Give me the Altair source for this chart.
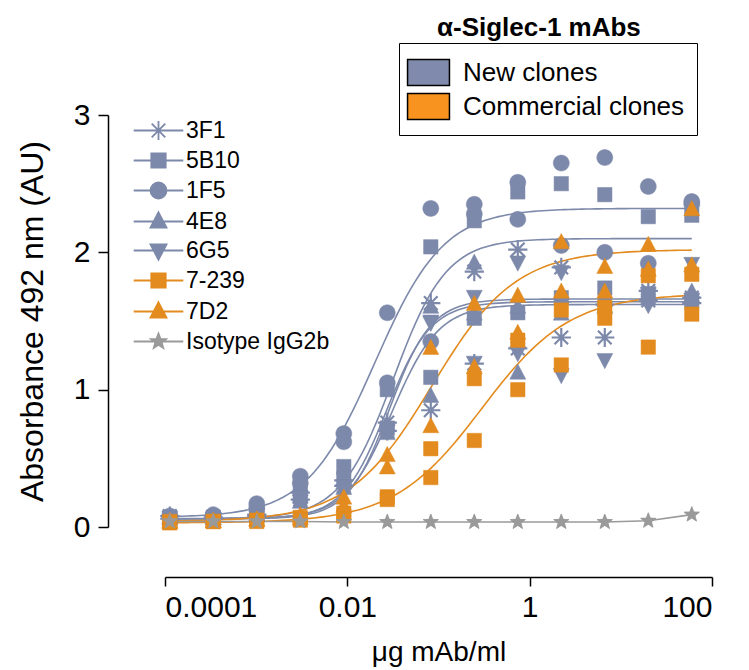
import altair as alt
import pandas as pd

# ---------------- data ----------------
conc = [60, 20, 6.667, 2.222, 0.7407, 0.2469, 0.0823, 0.02743, 0.009145,
        0.003048, 0.001016, 0.0003387, 0.0001129]

series_names = ["3F1", "5B10", "1F5", "4E8", "6G5", "7-239", "7D2", "Isotype IgG2b"]

# two replicates per concentration
rep1 = {
    "3F1":  [1.67, 1.72, 1.62, 1.89, 2.02, 1.86, 1.63, 0.76, 0.34, 0.25, 0.09, 0.07, 0.08],
    "5B10": [2.27, 2.26, 2.42, 2.50, 2.44, 2.23, 2.04, 1.00, 0.44, 0.28, 0.10, 0.07, 0.07],
    "1F5":  [2.37, 2.48, 2.69, 2.65, 2.51, 2.35, 2.32, 1.56, 0.68, 0.37, 0.17, 0.09, 0.08],
    "4E8":  [1.71, 1.68, 1.65, 1.70, 1.60, 1.92, 1.60, 0.74, 0.32, 0.22, 0.09, 0.06, 0.07],
    "6G5":  [1.92, 1.70, 1.60, 1.86, 1.93, 1.68, 1.49, 0.70, 0.30, 0.22, 0.09, 0.06, 0.07],
    "7-239": [1.84, 1.83, 1.60, 1.58, 1.36, 1.08, 0.57, 0.22, 0.10, 0.07, 0.05, 0.04, 0.04],
    "7D2":  [2.31, 2.05, 1.89, 2.07, 1.68, 1.62, 1.30, 0.52, 0.21, 0.08, 0.05, 0.04, 0.04],
    "Isotype IgG2b": [0.09, 0.045, 0.036, 0.036, 0.036, 0.036, 0.036, 0.036, 0.036, 0.04, 0.04, 0.04, 0.04],
}
rep2 = {
    "3F1":  [1.63, 1.65, 1.38, 1.38, 1.30, 1.19, 0.85, 0.70, 0.30, 0.20, 0.08, 0.06, 0.06],
    "5B10": [1.65, 1.70, 1.74, 1.67, 1.56, 1.52, 1.09, 0.72, 0.35, 0.22, 0.08, 0.06, 0.06],
    "1F5":  [2.35, 1.92, 2.00, 2.05, 2.24, 2.28, 1.35, 1.05, 0.62, 0.32, 0.14, 0.08, 0.07],
    "4E8":  [1.68, 1.66, 1.60, 1.55, 1.12, 1.55, 0.95, 0.68, 0.28, 0.18, 0.08, 0.06, 0.06],
    "6G5":  [1.66, 1.62, 1.22, 1.11, 1.27, 1.20, 1.50, 0.72, 0.27, 0.19, 0.07, 0.06, 0.05],
    "7-239": [1.55, 1.31, 1.52, 1.18, 1.00, 0.63, 0.36, 0.20, 0.08, 0.05, 0.04, 0.04, 0.03],
    "7D2":  [1.90, 1.87, 1.71, 1.71, 1.41, 1.16, 0.73, 0.43, 0.15, 0.06, 0.05, 0.04, 0.03],
    "Isotype IgG2b": [0.09, 0.045, 0.036, 0.036, 0.036, 0.036, 0.036, 0.036, 0.036, 0.04, 0.04, 0.04, 0.04],
}

# four-parameter logistic fits (bottom, top, EC50, Hill)
fit_series = ["1F5", "5B10", "3F1", "4E8", "6G5", "7D2", "7-239"]
fit_bottom = [0.07, 0.06, 0.06, 0.06, 0.06, 0.04, 0.03]
fit_top = [2.32, 2.10, 1.64, 1.62, 1.66, 2.02, 1.70]
fit_ec50 = [0.020, 0.032, 0.027, 0.031, 0.029, 0.085, 0.30]
fit_hill = [1.15, 1.5, 1.8, 1.7, 1.9, 0.95, 0.9]

group_names = ["New clones", "Commercial clones"]

# ---------------- styles ----------------
BLUE = "#7D89AA"
ORANGE = "#E38B1E"
GRAY = "#9A9A9A"
series_colors = [BLUE, BLUE, BLUE, BLUE, BLUE, ORANGE, ORANGE, GRAY]
group_colors = ["#7F8AAC", "#F7931E"]

P_AST = "M-1.2,0H1.2M0,-1.2V1.2M-0.85,-0.85L0.85,0.85M-0.85,0.85L0.85,-0.85"
P_SQ = "M-0.9,-0.9H0.9V0.9H-0.9Z"
P_CI = "M-1,0A1,1,0,1,1,1,0A1,1,0,1,1,-1,0Z"
P_TU = "M0,-1.15L1,0.75H-1Z"
P_TD = "M0,1.15L1,-0.75H-1Z"
P_ST = ("M0,-1L0.247,-0.34L0.951,-0.309L0.399,0.13L0.588,0.809L0,0.42"
        "L-0.588,0.809L-0.399,0.13L-0.951,-0.309L-0.247,-0.34Z")
marker_paths = [P_AST, P_SQ, P_CI, P_TU, P_TD, P_SQ, P_TU, P_ST]
LINE = "M-3.1,0H3.1"
legend_paths = [LINE + p for p in marker_paths]
RECT = "M-1.27,-0.79H1.27V0.79H-1.27Z"
FONT = "Liberation Sans"

# ---------------- tables ----------------
rows = []
for s in series_names:
    for c, a, b in zip(conc, rep1[s], rep2[s]):
        rows.append({"series": s, "conc": c, "abs": a, "rep": 1})
        rows.append({"series": s, "conc": c, "abs": b, "rep": 2})
points = pd.DataFrame(rows)
iso = points[(points["series"] == "Isotype IgG2b") & (points["rep"] == 1)]
fits = pd.DataFrame({"series": fit_series, "bottom": fit_bottom, "top": fit_top,
                     "ec50": fit_ec50, "hill": fit_hill})
legend_df = pd.DataFrame({"series": series_names})
group_df = pd.DataFrame({"group": group_names})

XT = "μg mAb/ml"
YT = "Absorbance 492 nm (AU)"

xscale = alt.Scale(type="log", domain=[1e-4, 100])
yscale = alt.Scale(domain=[0, 3])
xaxis = alt.Axis(values=[1e-4, 0.01, 1, 100], format="~g", offset=50, tickSize=9,
                 labelPadding=6, titlePadding=16, title=XT, titleFontSize=28)
yaxis = alt.Axis(values=[0, 1, 2, 3], format="d", offset=57, tickSize=10, labelPadding=8,
                 titlePadding=24, title=YT, titleFontSize=32)

# fitted curves
curves = alt.Chart(fits).transform_calculate(
    t="sequence(0, 121)"
).transform_flatten(["t"]).transform_calculate(
    x="pow(10, -4 + datum.t * (4 + log(60) / LN10) / 120)"
).transform_calculate(
    y="datum.bottom + (datum.top - datum.bottom) / (1 + pow(datum.ec50 / datum.x, datum.hill))"
).mark_line(strokeWidth=1.6, clip=False).encode(
    x=alt.X("x:Q", scale=xscale, axis=xaxis, title=XT),
    y=alt.Y("y:Q", scale=yscale, axis=yaxis, title=YT),
    color=alt.Color("series:N", scale=alt.Scale(domain=series_names, range=series_colors), legend=None),
    detail="series:N",
)

iso_line = alt.Chart(iso).mark_line(strokeWidth=1.6, color=GRAY).encode(
    x=alt.X("conc:Q", scale=xscale, title=XT),
    y=alt.Y("abs:Q", scale=yscale, title=YT),
)

pts = alt.Chart(points).mark_point(filled=True, size=256, opacity=1).encode(
    x=alt.X("conc:Q", scale=xscale, title=XT),
    y=alt.Y("abs:Q", scale=yscale, title=YT),
    color=alt.Color("series:N", scale=alt.Scale(domain=series_names, range=series_colors), legend=None),
    stroke=alt.Stroke("series:N", scale=alt.Scale(domain=series_names, range=series_colors), legend=None),
    shape=alt.Shape("series:N", scale=alt.Scale(domain=series_names, range=marker_paths), legend=None),
    strokeWidth=alt.condition(alt.datum.series == "3F1", alt.value(2.2), alt.value(0.5)),
)

leg1 = alt.Legend(orient="none", legendX=-18, legendY=4, title=None, labelFontSize=23,
                  labelFont=FONT, symbolSize=256, labelOffset=16, rowPadding=5, padding=0,
                  symbolStrokeWidth=1.8, labelColor="black", labelLimit=400)
legend_layer = alt.Chart(legend_df).transform_filter("false").mark_point(
    filled=True, opacity=1).encode(
    fill=alt.Fill("series:N", scale=alt.Scale(domain=series_names, range=series_colors), legend=leg1),
    stroke=alt.Stroke("series:N", scale=alt.Scale(domain=series_names, range=series_colors), legend=leg1),
    shape=alt.Shape("series:N", scale=alt.Scale(domain=series_names, range=legend_paths), legend=leg1),
)

leg2 = alt.Legend(orient="none", legendX=234, legendY=-72, title=None, labelFontSize=26,
                  labelFont=FONT, symbolType=RECT, symbolSize=1089, symbolStrokeColor="black",
                  symbolStrokeWidth=1.5, labelOffset=17, rowPadding=0, padding=12,
                  strokeColor="black", labelColor="black", symbolOpacity=1, labelLimit=400)
group_layer = alt.Chart(group_df).transform_filter("false").mark_point(
    filled=True, opacity=1, stroke="black", strokeWidth=1.5, shape=RECT).encode(
    fill=alt.Fill("group:N", scale=alt.Scale(domain=group_names, range=group_colors), legend=leg2),
)

chart = alt.layer(curves, iso_line, pts, legend_layer, group_layer).resolve_scale(
    color="independent", fill="independent", stroke="independent", shape="independent",
    x="shared", y="shared"
).properties(
    width=547, height=412,
    autosize=alt.AutoSizeParams(type="none"),
    padding={"left": 157, "top": 107, "right": 29, "bottom": 143},
    title=alt.TitleParams("α-Siglec-1 mAbs", anchor="start", frame="group", dx=272,
                          fontSize=26, fontWeight="bold", font=FONT, offset=2, color="black"),
).configure(font=FONT).configure_view(stroke=None).configure_axis(
    domainColor="black", tickColor="black", labelColor="black", titleColor="black",
    domainWidth=1.5, tickWidth=1.5, grid=False, labelFontSize=30,
    titleFontWeight="normal", labelFont=FONT, titleFont=FONT,
)

chart.save("out.html", embed_options={"renderer": "svg", "actions": False})
